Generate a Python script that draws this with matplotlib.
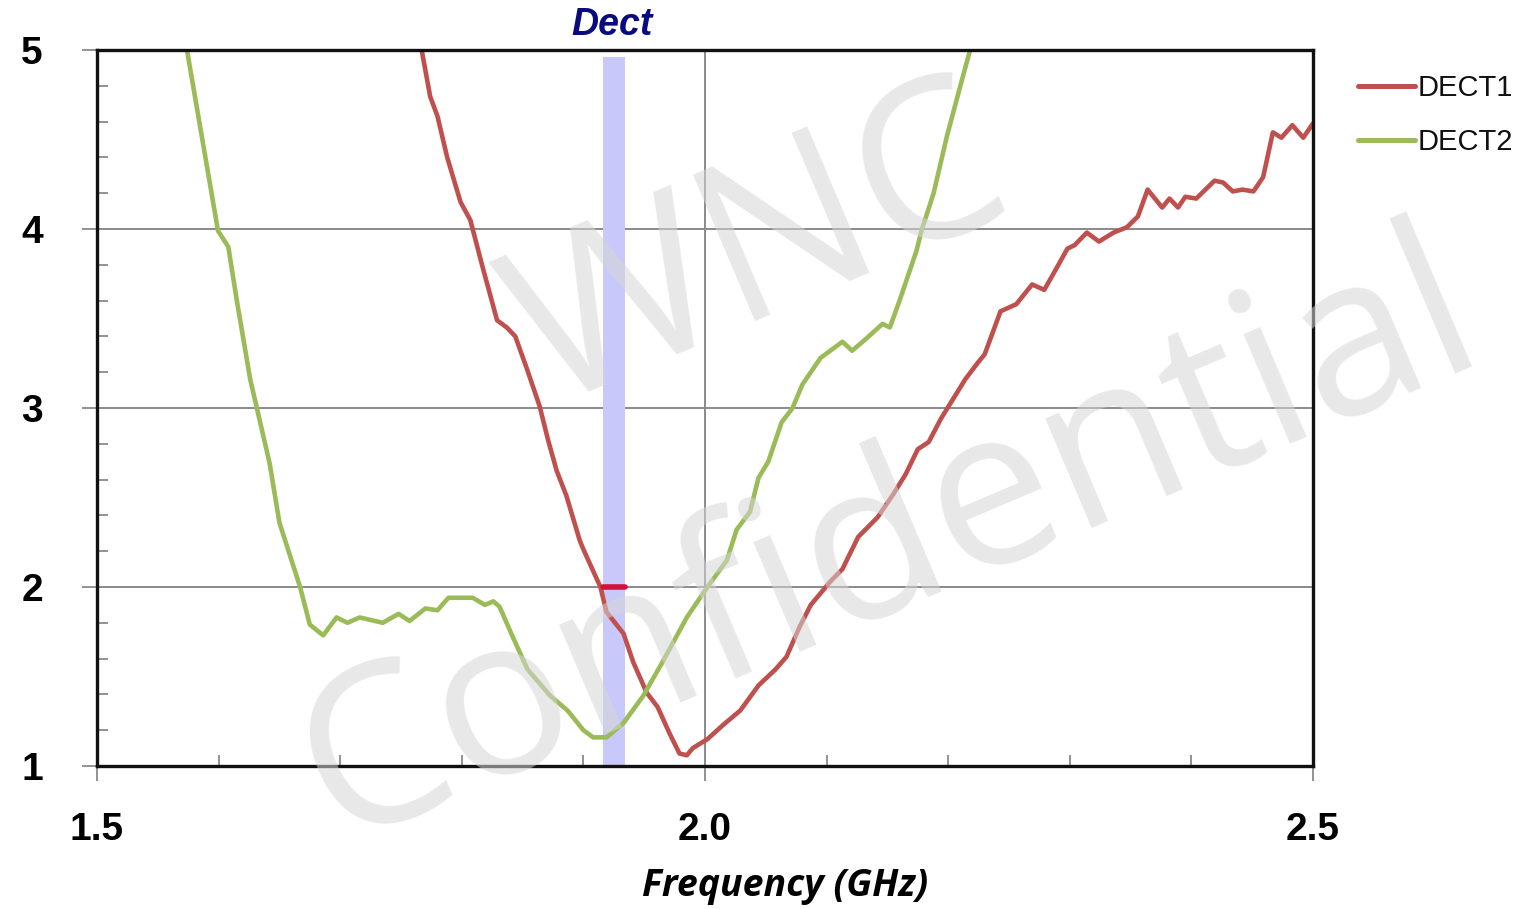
import matplotlib
matplotlib.use("Agg")
import matplotlib.pyplot as plt
from matplotlib.ticker import MultipleLocator, FixedLocator

# ---- data ----
dect1_freq = [1.767, 1.774, 1.780, 1.788, 1.799, 1.807, 1.817, 1.829, 1.837, 1.844,
              1.854, 1.864, 1.871, 1.878, 1.886, 1.897, 1.900, 1.914, 1.919, 1.933,
              1.941, 1.952, 1.961, 1.971, 1.979, 1.985, 1.990, 2.002, 2.015, 2.029,
              2.044, 2.058, 2.067, 2.078, 2.087, 2.103, 2.113, 2.126, 2.142, 2.155,
              2.165, 2.175, 2.184, 2.194, 2.204, 2.214, 2.224, 2.230, 2.243, 2.256,
              2.269, 2.279, 2.289, 2.298, 2.304, 2.314, 2.324, 2.336, 2.347, 2.356,
              2.364, 2.376, 2.382, 2.389, 2.395, 2.404, 2.419, 2.426, 2.434, 2.442,
              2.451, 2.459, 2.467, 2.474, 2.483, 2.492, 2.500]
dect1_vswr = [5.00, 4.74, 4.63, 4.40, 4.15, 4.05, 3.79, 3.49, 3.45, 3.40,
              3.21, 3.01, 2.82, 2.65, 2.51, 2.26, 2.21, 2.00, 1.86, 1.74,
              1.58, 1.41, 1.33, 1.18, 1.07, 1.06, 1.10, 1.15, 1.23, 1.31,
              1.45, 1.54, 1.61, 1.78, 1.90, 2.03, 2.10, 2.28, 2.39, 2.52,
              2.63, 2.77, 2.81, 2.94, 3.05, 3.16, 3.25, 3.30, 3.54, 3.58,
              3.69, 3.66, 3.78, 3.89, 3.91, 3.98, 3.93, 3.98, 4.01, 4.07,
              4.22, 4.12, 4.17, 4.12, 4.18, 4.17, 4.27, 4.26, 4.21, 4.22,
              4.21, 4.29, 4.54, 4.51, 4.58, 4.51, 4.59]

dect2_freq = [1.574, 1.5995, 1.608, 1.615, 1.626, 1.642, 1.650, 1.667, 1.675, 1.686,
              1.697, 1.706, 1.716, 1.735, 1.748, 1.757, 1.770, 1.780, 1.789, 1.809,
              1.819, 1.826, 1.831, 1.842, 1.854, 1.873, 1.887, 1.900, 1.908, 1.919,
              1.933, 1.949, 1.965, 1.985, 2.002, 2.018, 2.026, 2.037, 2.044, 2.052,
              2.063, 2.072, 2.080, 2.095, 2.113, 2.121, 2.133, 2.146, 2.152, 2.160,
              2.174, 2.178, 2.188, 2.199, 2.210, 2.218]
dect2_vswr = [5.00, 3.99, 3.90, 3.60, 3.16, 2.69, 2.36, 2.00, 1.79, 1.73,
              1.83, 1.80, 1.83, 1.80, 1.85, 1.81, 1.88, 1.87, 1.94, 1.94,
              1.90, 1.92, 1.89, 1.72, 1.54, 1.39, 1.31, 1.20, 1.16, 1.16,
              1.24, 1.39, 1.58, 1.83, 2.00, 2.15, 2.32, 2.42, 2.61, 2.70,
              2.92, 3.00, 3.13, 3.28, 3.37, 3.32, 3.39, 3.47, 3.45, 3.60,
              3.88, 3.99, 4.20, 4.52, 4.80, 5.00]

series_names = ["DECT1", "DECT2"]
band_label = "Dect"
band_range = [1.916, 1.934]
band_marker_level = 2.0
x_ticks = [1.5, 2.0, 2.5]
x_ticklabels = ["1.5", "2.0", "2.5"]
y_ticks = [1, 2, 3, 4, 5]
y_ticklabels = ["1", "2", "3", "4", "5"]
x_label = "Frequency (GHz)"
watermark_lines = ["WNC", "Confidential"]

# ---- figure ----
W, H = 1522, 909
fig = plt.figure(figsize=(W / 100, H / 100), dpi=100)
ax = fig.add_axes([97 / W, 1 - 766 / H, (1313 - 97) / W, (766 - 50) / H])

ax.set_xlim(1.5, 2.5)
ax.set_ylim(1, 5)

# grid
for yv in [2, 3, 4]:
    ax.axhline(yv, color="#8a8a8a", lw=1.4, zorder=1)
ax.axvline(2.0, color="#8a8a8a", lw=1.4, zorder=1)

# band
ax.axvspan(band_range[0], band_range[1], ymin=0, ymax=(4.96 - 1) / 4,
           color="#c8c8fa", lw=0, zorder=2)

red = "#c0504d"
green = "#9bbb59"
ax.plot(dect1_freq, dect1_vswr, color=red, lw=3.3, solid_joinstyle="round",
        solid_capstyle="round", zorder=4, label=series_names[0])
ax.plot(dect2_freq, dect2_vswr, color=green, lw=3.3, solid_joinstyle="round",
        solid_capstyle="round", zorder=4, label=series_names[1])

# band marker at VSWR 2
ax.plot(band_range, [band_marker_level, band_marker_level], color="#d40f3c",
        lw=4.0, solid_capstyle="round", zorder=5)

# spines
for s in ax.spines.values():
    s.set_color("#111111")
    s.set_linewidth(2.4)
    s.set_zorder(6)

# ticks
ax.xaxis.set_major_locator(FixedLocator(x_ticks))
ax.yaxis.set_major_locator(FixedLocator(y_ticks))
ax.xaxis.set_minor_locator(MultipleLocator(0.1))
ax.yaxis.set_minor_locator(MultipleLocator(0.2))
ax.tick_params(which="major", direction="out", length=11, width=1.3, color="#8a8a8a")
ax.tick_params(which="minor", direction="in", length=8, width=1.3, color="#8a8a8a")
ax.tick_params(axis="y", which="major", pad=28)
ax.tick_params(axis="x", which="major", pad=22)
ax.set_xticklabels(x_ticklabels, fontsize=28, fontweight="bold",
                   family="Liberation Sans")
ax.set_yticklabels(y_ticklabels, fontsize=28, fontweight="bold",
                   family="Liberation Sans")

fig.text(785 / W, 1 - 886 / H, x_label, fontsize=27, fontweight="bold",
         fontstyle="italic", family="Open Sans", ha="center", va="center")

fig.text(612 / W, 1 - 25 / H, band_label, fontsize=27, fontweight="bold",
         fontstyle="italic", family="Liberation Sans", color="#0a0a80",
         ha="center", va="center")

leg = ax.legend(loc="upper left", bbox_to_anchor=(1358 / W, 1 - 74 / H),
                bbox_transform=fig.transFigure, frameon=False,
                prop={"family": "Liberation Sans", "size": 21},
                handlelength=1.95, handletextpad=0.1, labelspacing=0.9,
                borderpad=0, borderaxespad=0)
for t in leg.get_texts():
    t.set_color("#111111")
for ln in leg.get_lines():
    ln.set_linewidth(3.6)

# watermark
wm_color = (0.84, 0.84, 0.84)
fig.text(760 / W, 1 - 255 / H, watermark_lines[0], fontsize=160, family="Open Sans",
         color=wm_color, alpha=0.55, rotation=23, ha="center", va="center",
         rotation_mode="anchor", zorder=10)
fig.text(890 / W, 1 - 545 / H, watermark_lines[1], fontsize=160, family="Open Sans",
         color=wm_color, alpha=0.55, rotation=23, ha="center", va="center",
         rotation_mode="anchor", zorder=10)

fig.savefig("out.png", dpi=100, facecolor="white")
